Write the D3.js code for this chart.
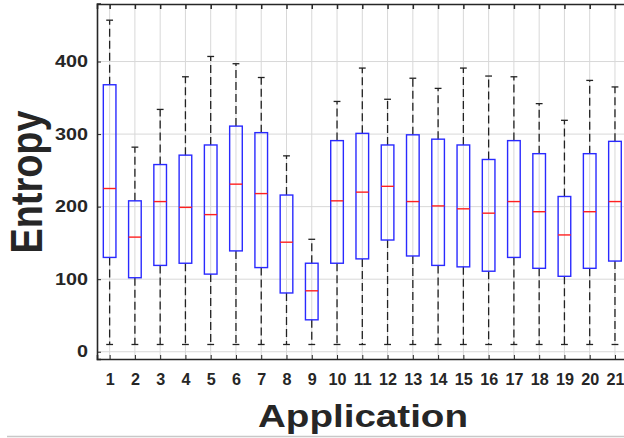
<!DOCTYPE html>
<html>
<head>
<meta charset="utf-8">
<script src="https://cdn.jsdelivr.net/npm/d3@7"></script>
<style>
  html, body { margin: 0; padding: 0; background: #fff; }
  svg { display: block; }
  text { font-family: "Liberation Sans", Arial, sans-serif; font-weight: bold; fill: #262626; }
</style>
</head>
<body>
<svg id="chart" width="624" height="438"></svg>
<script>
// Box-plot statistics per application
const apps      = d3.range(1, 22);
const whiskerLo = [10, 10, 10, 10, 10, 10, 10, 10, 10, 10, 10, 10, 10, 10, 10, 10, 10, 10, 10, 10, 10];
const q1        = [130, 102, 119, 122, 107, 139, 116, 81, 44, 122, 128, 154, 132, 119, 117, 111, 130, 115, 104, 115, 125];
const medians   = [225, 158, 207, 199, 189, 231, 218, 151, 84, 208, 220, 228, 207, 201, 197, 191, 207, 193, 161, 193, 207];
const q3        = [368, 208, 258, 271, 285, 311, 302, 216, 122, 291, 301, 285, 299, 293, 285, 265, 291, 273, 214, 273, 290];
const whiskerHi = [457, 282, 334, 379, 407, 397, 378, 270, 155, 345, 391, 348, 377, 363, 391, 380, 379, 342, 319, 374, 365];
const yTicks    = [0, 100, 200, 300, 400];

const svg = d3.select("#chart");
const plotL = 97, plotT = 4, plotB = 359, plotR = 627.6;

const x = d3.scaleLinear().domain([0.5, 21.5]).range([plotL, plotR]);
const y = d3.scaleLinear().domain([-10, 480]).range([plotB, plotT - 0.5]);

const step = x(2) - x(1);
const boxW = step * 0.5;
const capW = step * 0.27;

// grid
const grid = svg.append("g").attr("stroke", "#d8d8d8").attr("stroke-width", 1);
grid.selectAll("line.v").data(apps).join("line").attr("class", "v")
  .attr("x1", d => x(d)).attr("x2", d => x(d)).attr("y1", plotT).attr("y2", plotB);
grid.selectAll("line.h").data(yTicks).join("line").attr("class", "h")
  .attr("x1", plotL).attr("x2", plotR).attr("y1", d => y(d)).attr("y2", d => y(d));

// boxes
const data = apps.map((a, i) => ({a, lo: whiskerLo[i], q1: q1[i], med: medians[i], q3: q3[i], hi: whiskerHi[i]}));
const g = svg.append("g");
const b = g.selectAll("g.box").data(data).join("g").attr("class", "box");

b.append("line").attr("x1", d => x(d.a)).attr("x2", d => x(d.a))
  .attr("y1", d => y(d.q3)).attr("y2", d => y(d.hi))
  .attr("stroke", "#222").attr("stroke-width", 1.3).attr("stroke-dasharray", "8,4");
b.append("line").attr("x1", d => x(d.a)).attr("x2", d => x(d.a))
  .attr("y1", d => y(d.q1)).attr("y2", d => y(d.lo))
  .attr("stroke", "#222").attr("stroke-width", 1.3).attr("stroke-dasharray", "8,4");
b.selectAll("line.cap").data(d => [d.lo, d.hi].map(v => ({a: d.a, v}))).join("line").attr("class", "cap")
  .attr("x1", d => x(d.a) - capW / 2).attr("x2", d => x(d.a) + capW / 2)
  .attr("y1", d => y(d.v)).attr("y2", d => y(d.v))
  .attr("stroke", "#222").attr("stroke-width", 1.3);
b.append("rect")
  .attr("x", d => x(d.a) - boxW / 2).attr("width", boxW)
  .attr("y", d => y(d.q3)).attr("height", d => y(d.q1) - y(d.q3))
  .attr("fill", "none").attr("stroke", "#2a2aff").attr("stroke-width", 1.4);
b.append("line")
  .attr("x1", d => x(d.a) - boxW / 2).attr("x2", d => x(d.a) + boxW / 2)
  .attr("y1", d => y(d.med)).attr("y2", d => y(d.med))
  .attr("stroke", "#ff2020").attr("stroke-width", 1.4);

// axes
const xAxis = d3.axisBottom(x).tickValues(apps).tickSize(-4).tickPadding(14).tickFormat(d3.format("d"));
const xAxisTop = d3.axisTop(x).tickValues(apps).tickSize(-5).tickFormat("");
const yAxis = d3.axisLeft(y).tickValues(yTicks).tickSize(-4).tickPadding(9);

const ax = svg.append("g").attr("transform", `translate(0,${plotB})`).call(xAxis);
ax.select(".domain").attr("stroke", "#262626").attr("stroke-width", 1.6);
ax.selectAll(".tick line").attr("stroke", "#262626");
ax.selectAll(".tick text").attr("font-size", 17).attr("fill", "#262626")
  .attr("textLength", d => d < 10 ? 9 : 18).attr("lengthAdjust", "spacingAndGlyphs");

const axt = svg.append("g").attr("transform", `translate(0,${plotT})`).call(xAxisTop);
axt.select(".domain").attr("stroke", "#262626").attr("stroke-width", 1.6);
axt.selectAll(".tick line").attr("stroke", "#262626").attr("stroke-width", 1.5);

const ay = svg.append("g").attr("transform", `translate(${plotL},0)`).call(yAxis);
ay.select(".domain").attr("stroke", "#262626").attr("stroke-width", 1.6);
ay.selectAll(".tick line").attr("stroke", "#262626");
ay.selectAll(".tick text").attr("font-size", 16).attr("fill", "#262626")
  .attr("textLength", d => String(d).length * 11).attr("lengthAdjust", "spacingAndGlyphs");

// axis titles
svg.append("text").attr("x", 363).attr("y", 427).attr("text-anchor", "middle")
  .attr("font-size", 31).attr("textLength", 210).attr("lengthAdjust", "spacingAndGlyphs")
  .text("Application");
svg.append("text").attr("transform", "translate(42,182) rotate(-90)").attr("text-anchor", "middle")
  .attr("font-size", 44).attr("textLength", 143).attr("lengthAdjust", "spacingAndGlyphs")
  .text("Entropy");

// bottom rule
svg.append("line").attr("x1", 7).attr("x2", 624).attr("y1", 436.5).attr("y2", 436.5)
  .attr("stroke", "#c8c8c8").attr("stroke-width", 1.5);
</script>
</body>
</html>
